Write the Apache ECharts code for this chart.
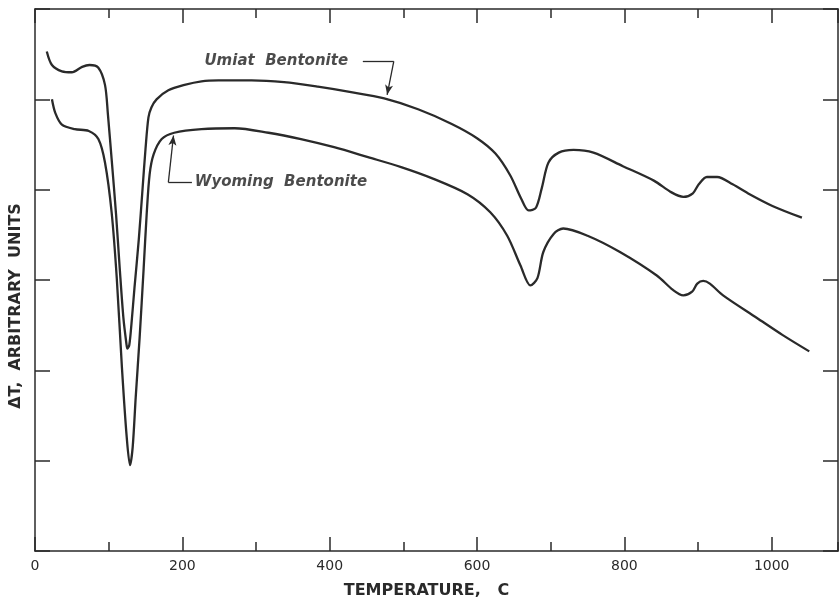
<!DOCTYPE html>
<html>
<head>
<meta charset="utf-8">
<script src="https://cdn.jsdelivr.net/npm/echarts@6/dist/echarts.min.js"></script>
<style>
  html, body { margin: 0; padding: 0; background: #fff; }
  #chart { width: 839px; height: 604px; }
</style>
</head>
<body>
<div id="chart"></div>
<script>
// DTA curves, temperature in C, delta T in arbitrary units (0..6 on the frame)
const umiatTemp = [16, 23, 36.5, 50, 64, 74, 86, 95, 99, 104, 110, 115, 120, 124, 125.4, 128, 131, 135, 141, 146, 150, 154, 158, 165, 181, 203, 226, 249, 294, 338, 384, 429, 474, 520, 565, 600, 625, 645, 660, 670, 680, 688, 697, 711, 731, 758, 798, 840, 864, 880, 893, 901, 912, 926, 947, 970, 1001, 1041];
const umiatDT = [5.53, 5.38, 5.31, 5.30, 5.36, 5.38, 5.35, 5.16, 4.83, 4.34, 3.73, 3.13, 2.58, 2.30, 2.24, 2.28, 2.52, 2.91, 3.46, 4.01, 4.45, 4.80, 4.91, 5.00, 5.10, 5.16, 5.20, 5.21, 5.21, 5.19, 5.14, 5.08, 5.01, 4.89, 4.73, 4.57, 4.40, 4.16, 3.90, 3.77, 3.80, 4.02, 4.30, 4.41, 4.44, 4.41, 4.26, 4.10, 3.97, 3.92, 3.96, 4.06, 4.14, 4.14, 4.06, 3.95, 3.82, 3.69];

const wyomingTemp = [23, 27.5, 36.5, 54, 73, 86, 95, 104, 111, 118, 124.5, 129, 132.6, 136.7, 142, 147.5, 151.6, 155.6, 161, 172, 189, 226, 271, 317, 361, 406, 452, 497, 541, 587, 618, 641, 659, 672.5, 682, 690, 704, 717, 750, 794, 844, 866, 880, 892, 899, 907, 916, 934, 980, 1015, 1051];
const wyomingDT = [5.00, 4.85, 4.72, 4.67, 4.65, 4.56, 4.30, 3.75, 3.02, 2.03, 1.26, 0.95, 1.15, 1.70, 2.36, 3.13, 3.73, 4.17, 4.39, 4.56, 4.63, 4.67, 4.68, 4.63, 4.56, 4.47, 4.36, 4.25, 4.12, 3.95, 3.75, 3.49, 3.16, 2.94, 3.02, 3.31, 3.51, 3.57, 3.49, 3.31, 3.05, 2.89, 2.83, 2.87, 2.96, 2.99, 2.96, 2.83, 2.58, 2.39, 2.21];

const xMin = 0, xMax = 1090, xMajor = 200, xMinor = 100;
const yMin = 0, yMax = 6, yStep = 1;

// curve labels and their leader lines, in data units
const umiatLabel = 'Umiat  Bentonite';
const umiatLabelAt = [230, 5.42];
const umiatLeader = [[445, 5.42], [487, 5.42], [478, 5.05]];
const wyomingLabel = 'Wyoming  Bentonite';
const wyomingLabelAt = [217, 4.08];
const wyomingLeader = [[213, 4.08], [181, 4.08], [188, 4.60]];

const ink = '#2a2a2a';
const chart = echarts.init(document.getElementById('chart'));

const pair = (xs, ys) => xs.map((x, i) => [x, ys[i]]);

const leaderLines = (pts) => {
  const segs = [];
  for (let i = 0; i < pts.length - 1; i++) {
    const last = i === pts.length - 2;
    segs.push([
      { coord: pts[i], symbol: 'none' },
      { coord: pts[i + 1], symbol: last ? 'arrow' : 'none', symbolSize: [6, 10] }
    ]);
  }
  return segs;
};

const xAxisBase = (pos, major, withLabels) => ({
  type: 'value',
  min: xMin,
  max: xMax,
  interval: major ? xMajor : xMinor,
  position: pos,
  axisLine: { show: major, onZero: false, lineStyle: { color: ink, width: 1.5 } },
  axisTick: { show: true, inside: true, length: major ? 14 : 9, lineStyle: { color: ink, width: 1.5 } },
  axisLabel: {
    show: withLabels,
    color: ink,
    fontSize: 14,
    fontFamily: 'DejaVu Sans',
    margin: 8,
    showMaxLabel: false,
    formatter: (v) => String(v)
  },
  splitLine: { show: false }
});

const yAxisBase = (pos) => ({
  type: 'value',
  min: yMin,
  max: yMax,
  interval: yStep,
  position: pos,
  axisLine: { show: true, onZero: false, lineStyle: { color: ink, width: 1.5 } },
  axisTick: { show: true, inside: true, length: 15, lineStyle: { color: ink, width: 1.5 } },
  axisLabel: { show: false },
  splitLine: { show: false }
});

const labelStyle = {
  show: true,
  position: 'right',
  distance: 0,
  formatter: '{b}',
  color: '#1e1e1e',
  fontSize: 15,
  fontStyle: 'italic',
  fontWeight: 'bold',
  fontFamily: 'DejaVu Sans'
};

const curveStyle = { color: ink, width: 2.3 };

const option = {
  animation: false,
  backgroundColor: '#fff',
  grid: { left: 33, right: 1, top: 9, bottom: 50 },
  xAxis: [
    Object.assign(xAxisBase('bottom', true, true), {
      name: 'TEMPERATURE,   C',
      nameLocation: 'middle',
      nameGap: 32,
      nameTextStyle: {
        color: ink, fontSize: 16, fontWeight: 'bold', fontFamily: 'DejaVu Sans',
        padding: [0, 20, 0, 0]
      }
    }),
    xAxisBase('bottom', false, false),
    xAxisBase('top', true, false),
    xAxisBase('top', false, false)
  ],
  yAxis: [
    Object.assign(yAxisBase('left'), {
      name: 'ΔT,  ARBITRARY  UNITS',
      nameLocation: 'middle',
      nameGap: 11,
      nameTextStyle: {
        color: ink, fontSize: 16, fontWeight: 'bold', fontFamily: 'DejaVu Sans',
        padding: [0, 52, 0, 0]
      }
    }),
    yAxisBase('right')
  ],
  series: [
    {
      name: 'Umiat Bentonite',
      type: 'line',
      data: pair(umiatTemp, umiatDT),
      smooth: 0.3,
      symbol: 'none',
      lineStyle: curveStyle,
      silent: true,
      markLine: {
        silent: true,
        label: { show: false },
        lineStyle: { color: ink, width: 1.3, type: 'solid' },
        data: leaderLines(umiatLeader)
      }
    },
    {
      name: 'Wyoming Bentonite',
      type: 'line',
      data: pair(wyomingTemp, wyomingDT),
      smooth: 0.3,
      symbol: 'none',
      lineStyle: curveStyle,
      silent: true,
      markLine: {
        silent: true,
        label: { show: false },
        lineStyle: { color: ink, width: 1.3, type: 'solid' },
        data: leaderLines(wyomingLeader)
      }
    },
    {
      type: 'scatter',
      symbolSize: 0,
      silent: true,
      label: labelStyle,
      data: [
        { name: umiatLabel, value: umiatLabelAt },
        { name: wyomingLabel, value: wyomingLabelAt }
      ]
    }
  ]
};

chart.setOption(option);
</script>
</body>
</html>
